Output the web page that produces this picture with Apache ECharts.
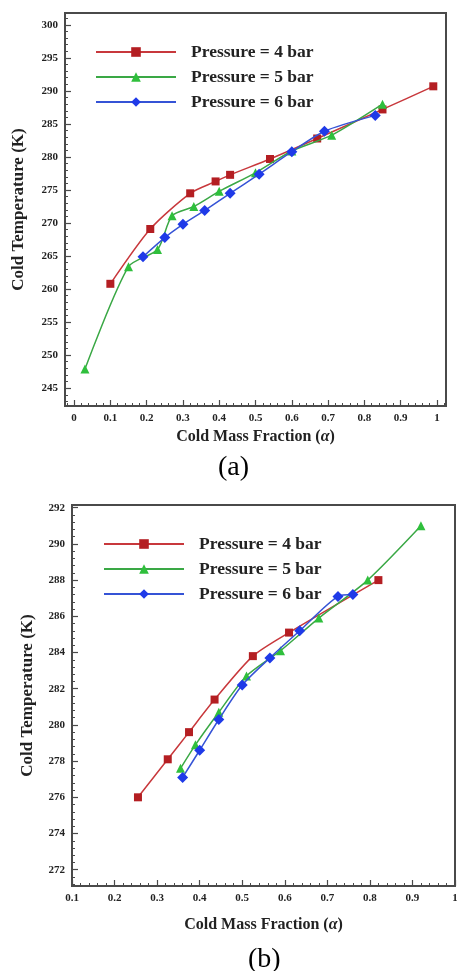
<!DOCTYPE html>
<html>
<head>
<meta charset="utf-8">
<script src="https://cdn.jsdelivr.net/npm/echarts@6/dist/echarts.min.js"></script>
<style>
  html, body { margin: 0; padding: 0; background: #fff; }
  #chart { width: 457px; height: 971px; }
</style>
</head>
<body>
<div id="chart"></div>
<script>
// panel (a)
const aX4 = [0.10, 0.21, 0.32, 0.39, 0.43, 0.54, 0.67, 0.85, 0.99]
const aY4 = [260.8, 269.1, 274.5, 276.3, 277.3, 279.7, 282.8, 287.2, 290.7]
const aX5 = [0.03, 0.15, 0.23, 0.27, 0.33, 0.40, 0.50, 0.60, 0.71, 0.85]
const aY5 = [247.9, 263.4, 266.0, 271.1, 272.5, 274.8, 277.6, 280.9, 283.3, 288.0]
const aX6 = [0.19, 0.25, 0.30, 0.36, 0.43, 0.51, 0.60, 0.69, 0.83]
const aY6 = [264.9, 267.8, 269.8, 271.9, 274.5, 277.4, 280.8, 283.9, 286.3]

// panel (b)
const bX4 = [0.255, 0.325, 0.375, 0.435, 0.525, 0.61, 0.82]
const bY4 = [276.0, 278.1, 279.6, 281.4, 283.8, 285.1, 288.0]
const bX5 = [0.355, 0.39, 0.445, 0.51, 0.59, 0.68, 0.795, 0.92]
const bY5 = [277.6, 278.9, 280.7, 282.7, 284.1, 285.9, 288.0, 291.0]
const bX6 = [0.36, 0.40, 0.445, 0.50, 0.565, 0.635, 0.725, 0.76]
const bY6 = [277.1, 278.6, 280.3, 282.2, 283.7, 285.2, 287.1, 287.2]

// tick labels
const aXTicks = [0, 0.1, 0.2, 0.3, 0.4, 0.5, 0.6, 0.7, 0.8, 0.9, 1]
const aYTicks = [245, 250, 255, 260, 265, 270, 275, 280, 285, 290, 295, 300]
const bXTicks = [0.1, 0.2, 0.3, 0.4, 0.5, 0.6, 0.7, 0.8, 0.9, 1]
const bYTicks = [272, 274, 276, 278, 280, 282, 284, 286, 288, 290, 292]

const names = ['Pressure = 4 bar', 'Pressure = 5 bar', 'Pressure = 6 bar']

const SERIF = 'Liberation Serif'
const frameColor = '#4a4a4a'

// minor tick positions between (and just outside) the major ticks
const minors = (ticks, n, lo, hi) => {
  const step = (ticks[1] - ticks[0]) / n
  const out = []
  for (let v = ticks[0] - step; v > lo; v -= step) out.push(+v.toFixed(4))
  for (let i = 0; i < ticks.length - 1; i++) {
    for (let k = 1; k < n; k++) out.push(+(ticks[i] + step * k).toFixed(4))
  }
  for (let v = ticks[ticks.length - 1] + step; v < hi; v += step) out.push(+v.toFixed(4))
  return out
}

const tickLabel = { fontFamily: SERIF, fontWeight: 'bold', fontSize: 11, color: '#222' }
const nameStyle = (size) => ({
  fontFamily: SERIF, fontWeight: 'bold', fontSize: size, color: '#222',
  rich: { i: { fontFamily: SERIF, fontWeight: 'bold', fontStyle: 'italic', fontSize: size, color: '#222' } }
})

const mainAxis = (grid, min, max, ticks, extra) => Object.assign({
  gridIndex: grid,
  type: 'value',
  min, max,
  axisLine: { show: false, onZero: false },
  splitLine: { show: false },
  axisTick: { inside: true, length: 6, customValues: ticks, lineStyle: { color: frameColor, width: 1.2 } },
  axisLabel: Object.assign({ customValues: ticks, margin: 7 }, tickLabel)
}, extra)

const minorAxis = (grid, min, max, vals) => ({
  gridIndex: grid,
  type: 'value',
  min, max,
  axisLine: { show: false, onZero: false },
  splitLine: { show: false },
  axisLabel: { show: false },
  axisTick: { inside: true, length: 3, customValues: vals, lineStyle: { color: frameColor, width: 1 } }
})

const styles = [
  { symbol: 'rect', symbolSize: 8, line: '#c8383c', mark: '#b41e22' },
  { symbol: 'triangle', symbolSize: 9, line: '#3aa845', mark: '#2fbf3c' },
  { symbol: 'diamond', symbolSize: 11, line: '#3553d6', mark: '#1f3ae8' }
]

const makeSeries = (idx, xs, ys, axisIdx) => ({
  name: names[idx],
  type: 'line',
  xAxisIndex: axisIdx,
  yAxisIndex: axisIdx,
  data: xs.map((x, i) => [x, ys[i]]),
  smooth: 0.25,
  symbol: styles[idx].symbol,
  symbolSize: styles[idx].symbolSize,
  lineStyle: { color: styles[idx].line, width: 1.5 },
  itemStyle: { color: styles[idx].mark },
  z: 3 + idx
})

const gridA = { left: 65, top: 13, width: 381, height: 393, outerBoundsMode: 'none' }
const gridB = { left: 72, top: 505, width: 383, height: 381, outerBoundsMode: 'none' }

const legendOf = (left, top) => ({
  data: names,
  orient: 'vertical',
  left, top,
  padding: 0,
  itemWidth: 80,
  itemHeight: 12,
  itemGap: 7,
  selectedMode: false,
  textStyle: { fontFamily: SERIF, fontWeight: 'bold', fontSize: 17.5, color: '#222', padding: [0, 0, 0, 10] }
})

const chart = echarts.init(document.getElementById('chart'), null, { renderer: 'canvas' })

const option = {
  backgroundColor: '#fff',
  animation: false,
  title: [
    { text: '(a)', left: 218, top: 454, padding: 0, textStyle: { fontFamily: SERIF, fontWeight: 'normal', fontSize: 28, color: '#000' } },
    { text: '(b)', left: 248, top: 946, padding: 0, textStyle: { fontFamily: SERIF, fontWeight: 'normal', fontSize: 28, color: '#000' } }
  ],
  legend: [legendOf(95, 43), legendOf(103, 535)],
  grid: [
    Object.assign({ show: true, borderColor: frameColor, borderWidth: 2 }, gridA),
    Object.assign({}, gridA),
    Object.assign({ show: true, borderColor: frameColor, borderWidth: 2 }, gridB),
    Object.assign({}, gridB)
  ],
  xAxis: [
    mainAxis(0, -0.025, 1.025, aXTicks, {
      name: 'Cold Mass Fraction ({i|α})', nameLocation: 'middle', nameGap: 23, nameTextStyle: nameStyle(16)
    }),
    minorAxis(1, -0.025, 1.025, minors(aXTicks, 5, -0.025, 1.025)),
    mainAxis(2, 0.1, 1, bXTicks, {
      name: 'Cold Mass Fraction ({i|α})', nameLocation: 'middle', nameGap: 31, nameTextStyle: nameStyle(16)
    }),
    minorAxis(3, 0.1, 1, minors(bXTicks, 5, 0.1, 1))
  ],
  yAxis: [
    mainAxis(0, 242.3, 301.8, aYTicks, {
      name: 'Cold Temperature (K)', nameLocation: 'middle', nameGap: 38, nameTextStyle: nameStyle(17)
    }),
    minorAxis(1, 242.3, 301.8, minors(aYTicks, 5, 242.3, 301.8)),
    mainAxis(2, 271.1, 292.15, bYTicks, {
      name: 'Cold Temperature (K)', nameLocation: 'middle', nameGap: 36, nameTextStyle: nameStyle(17)
    }),
    minorAxis(3, 271.1, 292.15, minors(bYTicks, 5, 271.1, 292.15))
  ],
  series: [
    makeSeries(0, aX4, aY4, 0),
    makeSeries(1, aX5, aY5, 0),
    makeSeries(2, aX6, aY6, 0),
    makeSeries(0, bX4, bY4, 2),
    makeSeries(1, bX5, bY5, 2),
    makeSeries(2, bX6, bY6, 2)
  ]
}

chart.setOption(option)
</script>
</body>
</html>
